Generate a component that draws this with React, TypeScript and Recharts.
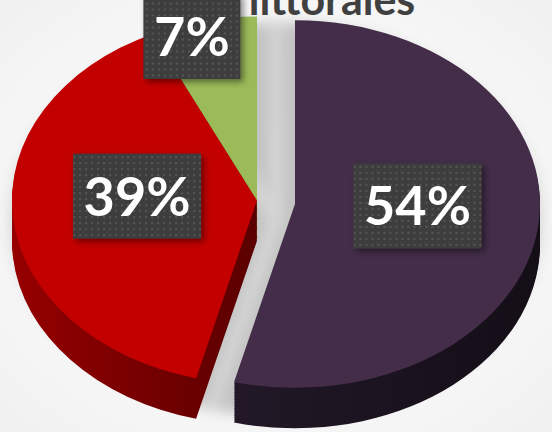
import React from 'react';
import { PieChart, Pie, Cell } from 'recharts';

// ---- data ----
const categories = ['Secteur A', 'Secteur B', 'Secteur C'];
const values = [54, 39, 7];
const labelTexts = ['54%', '39%', '7%'];
const titleText = 'littorales';

const data = categories.map((name, i) => ({ name, value: values[i] }));

// ---- layout / style ----
const S = 0.75; // vertical tilt
const W = 552;
const H = Math.round(432 / S);
const R = 245;
const MAIN = { cx: 257, cy: 267 };
const EXPL = { cx: 295, cy: 272 };
const DEPTH = 54;
const STEP = 3;
const layers: number[] = [];
for (let d = DEPTH; d > 0; d -= STEP) layers.push(d);

const topColors = ['#432d48', '#c30000', '#9bbb59'];
const sideFills = ['url(#sidePurple)', 'url(#sideRed)', 'url(#sideGreen)'];
const labelPos = [
  { f: 0.5, da: 6 },
  { f: 0.49, da: -8 },
  { f: 0.93, da: 4 },
];

const makeLabel = (show: number[]) => (props: any) => {
  const { cx, cy, midAngle, outerRadius, index } = props;
  if (!show.includes(index)) return null;
  const p = labelPos[index];
  const a = ((midAngle + p.da) * Math.PI) / 180;
  const r = outerRadius * p.f;
  const x = cx + r * Math.cos(a);
  const y = cy - r * Math.sin(a);
  const text = labelTexts[index];
  const w = 31 * text.length + 35;
  const h = 85;
  return (
    <g key={`lbl-${index}`} transform={`translate(${x} ${y}) scale(1 ${1 / S})`}>
      <rect x={-w / 2} y={-h / 2} width={w} height={h} fill="url(#dots)" filter="url(#boxShadow)" />
      <text
        x={0}
        y={0}
        dy="0.36em"
        textAnchor="middle"
        fill="#ffffff"
        fontFamily="Lato, 'Open Sans', sans-serif"
        fontWeight={700}
        fontSize={54}
      >
        {text}
      </text>
    </g>
  );
};

export default function App() {
  return (
    <div
      style={{
        position: 'absolute',
        left: 0,
        top: 0,
        width: 552,
        height: 432,
        overflow: 'hidden',
        background: 'radial-gradient(ellipse at 50% 50%, #ffffff 0%, #f6f6f6 70%, #f0f0f0 100%)',
      }}
    >
      <svg width={0} height={0} style={{ position: 'absolute' }}>
        <defs>
          <pattern id="dots" width="6" height="6" patternUnits="userSpaceOnUse">
            <rect width="6" height="6" fill="#3e3e3e" />
            <rect x="2" y="2" width="2" height="2" fill="#545454" />
          </pattern>
          <filter id="boxShadow" x="-20%" y="-20%" width="140%" height="140%">
            <feDropShadow dx="3" dy="3" stdDeviation="3" floodColor="#000" floodOpacity="0.45" />
          </filter>
          <filter id="pieShadow" x="-30%" y="-30%" width="160%" height="160%">
            <feGaussianBlur stdDeviation="9" />
          </filter>
          <linearGradient id="sideRed" x1="0" y1="0" x2="1" y2="0">
            <stop offset="0" stopColor="#960000" />
            <stop offset="1" stopColor="#5a0000" />
          </linearGradient>
          <linearGradient id="sidePurple" x1="0" y1="0" x2="1" y2="0">
            <stop offset="0" stopColor="#221827" />
            <stop offset="1" stopColor="#140e17" />
          </linearGradient>
          <linearGradient id="sideGreen" x1="0" y1="0" x2="1" y2="0">
            <stop offset="0" stopColor="#6f8a3d" />
            <stop offset="1" stopColor="#5a7230" />
          </linearGradient>
        </defs>
      </svg>
      <div style={{ width: W, height: H, transform: `scaleY(${S})`, transformOrigin: '0 0' }}>
        <PieChart width={W} height={H} margin={{ top: 0, right: 0, bottom: 0, left: 0 }}>
          {/* soft shadow under the pie */}
          <Pie
            data={data}
            dataKey="value"
            cx={276}
            cy={292}
            outerRadius={262}
            startAngle={90}
            endAngle={-270}
            stroke="none"
            isAnimationActive={false}
          >
            {data.map((d, i) => (
              <Cell key={`sh-${i}`} fill="#c2c2c2" filter="url(#pieShadow)" />
            ))}
          </Pie>
          {/* side layers of red/green */}
          {layers.map((d) => (
            <Pie
              key={`ms-${d}`}
              data={data}
              dataKey="value"
              cx={MAIN.cx}
              cy={MAIN.cy + d}
              outerRadius={R}
              startAngle={90}
              endAngle={-270}
              stroke="none"
              isAnimationActive={false}
            >
              {data.map((e, i) => (
                <Cell key={`msc-${i}`} fill={i === 0 ? 'none' : sideFills[i]} />
              ))}
            </Pie>
          ))}
          <Pie
            data={data}
            dataKey="value"
            cx={MAIN.cx}
            cy={MAIN.cy}
            outerRadius={R}
            startAngle={90}
            endAngle={-270}
            stroke="none"
            labelLine={false}
            label={makeLabel([1, 2])}
            isAnimationActive={false}
          >
            {data.map((e, i) => (
              <Cell key={`mt-${i}`} fill={i === 0 ? 'none' : topColors[i]} />
            ))}
          </Pie>
          {/* exploded purple slice */}
          {layers.map((d) => (
            <Pie
              key={`es-${d}`}
              data={data}
              dataKey="value"
              cx={EXPL.cx}
              cy={EXPL.cy + d}
              outerRadius={R}
              startAngle={90}
              endAngle={-270}
              stroke="none"
              isAnimationActive={false}
            >
              {data.map((e, i) => (
                <Cell key={`esc-${i}`} fill={i === 0 ? sideFills[i] : 'none'} />
              ))}
            </Pie>
          ))}
          <Pie
            data={data}
            dataKey="value"
            cx={EXPL.cx}
            cy={EXPL.cy}
            outerRadius={R}
            startAngle={90}
            endAngle={-270}
            stroke="none"
            labelLine={false}
            label={makeLabel([0])}
            isAnimationActive={false}
          >
            {data.map((e, i) => (
              <Cell key={`et-${i}`} fill={i === 0 ? topColors[i] : 'none'} />
            ))}
          </Pie>
        </PieChart>
      </div>
      <svg width={552} height={432} style={{ position: 'absolute', left: 0, top: 0, pointerEvents: 'none' }}>
        <text
          x={332}
          y={15}
          textAnchor="middle"
          fill="#404040"
          fontFamily="Lato, 'Open Sans', sans-serif"
          fontWeight={700}
          fontSize={43}
        >
          {titleText}
        </text>
      </svg>
    </div>
  );
}
